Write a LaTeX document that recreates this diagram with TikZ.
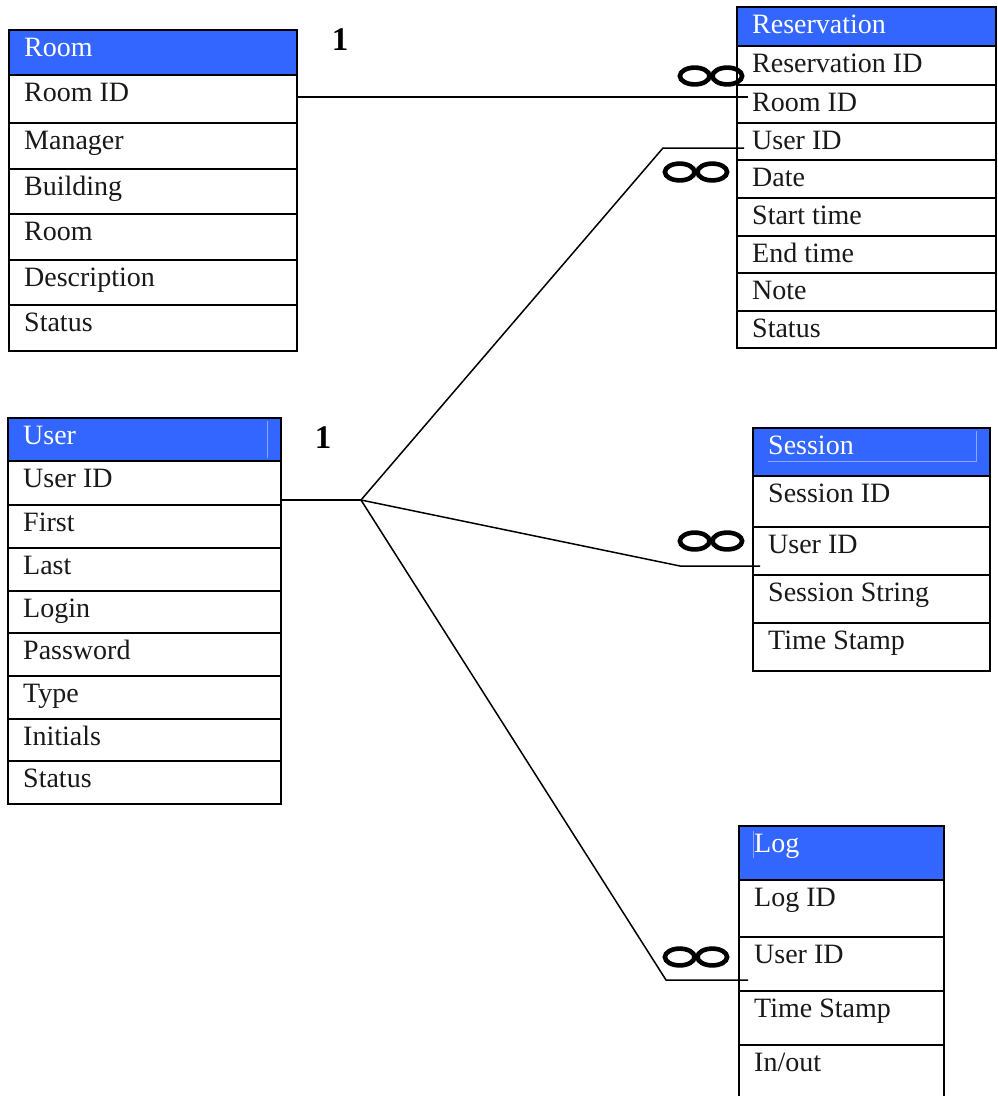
\documentclass[tikz,border=0pt]{standalone}
\usepackage{fontspec}
\setmainfont{Liberation Serif}
\definecolor{hdrblue}{RGB}{51,102,255}
\definecolor{hdrfaint}{RGB}{140,165,255}
\tikzset{
  x=1pt, y=1pt,
  rowbox/.style={draw=black, line width=2.5, fill=white, inner sep=0, outer sep=0},
  hdrbox/.style={draw=black, line width=2.5, fill=hdrblue, inner sep=0, outer sep=0},
  rowtxt/.style={inner sep=0, font=\fontsize{28}{30}\selectfont, text=black!90},
  hdrtxt/.style={inner sep=0, font=\fontsize{28}{30}\selectfont, text=white},
  onelbl/.style={inner sep=0, font=\fontsize{33}{36}\selectfont\bfseries},
  conn/.style={draw=black, line width=1.5},
  infsign/.pic={
    \draw[line width=4.6] (-16.3,0) ellipse (14.8 and 8.4);
    \draw[line width=4.6] (16.3,0) ellipse (14.8 and 8.4);
  }
}
% name, x, ytop, width, height, text
\newcommand\erow[6]{%
  \node[rowbox, minimum width=#4, minimum height=#5, anchor=north west] (#1) at (#2,#3) {};
  \node[rowtxt, anchor=base west] (#1-t) at ([xshift=15,yshift=-26]#1.north west) {#6};}
\newcommand\ehdr[6]{%
  \node[hdrbox, minimum width=#4, minimum height=#5, anchor=north west] (#1) at (#2,#3) {};
  \node[hdrtxt, anchor=base west] (#1-t) at ([xshift=15,yshift=-26]#1.north west) {#6};}
\begin{document}
\begin{tikzpicture}
\clip (0,0) rectangle (997,-1096);
\fill[white] (0,0) rectangle (997,-1096);

% ---------- Room ----------
\ehdr{room0}{9}{-30}{288}{45}{Room}
\erow{room1}{9}{-75}{288}{48}{Room ID}
\erow{room2}{9}{-123}{288}{46}{Manager}
\erow{room3}{9}{-169}{288}{45}{Building}
\erow{room4}{9}{-214}{288}{46}{Room}
\erow{room5}{9}{-260}{288}{45}{Description}
\erow{room6}{9}{-305}{288}{46}{Status}

% ---------- Reservation ----------
\ehdr{res0}{737}{-7}{259}{39}{Reservation}
\erow{res1}{737}{-46}{259}{39}{Reservation ID}
\erow{res2}{737}{-85}{259}{38}{Room ID}
\erow{res3}{737}{-123}{259}{37}{User ID}
\erow{res4}{737}{-160}{259}{38}{Date}
\erow{res5}{737}{-198}{259}{38}{Start time}
\erow{res6}{737}{-236}{259}{37}{End time}
\erow{res7}{737}{-273}{259}{38}{Note}
\erow{res8}{737}{-311}{259}{37}{Status}

% ---------- User ----------
\ehdr{user0}{8}{-418}{273}{43}{User}
\draw[hdrfaint, line width=0.8] (267,-421) -- (267,-458);
\erow{user1}{8}{-461}{273}{44}{User ID}
\erow{user2}{8}{-505}{273}{43}{First}
\erow{user3}{8}{-548}{273}{43}{Last}
\erow{user4}{8}{-591}{273}{42}{Login}
\erow{user5}{8}{-633}{273}{43}{Password}
\erow{user6}{8}{-676}{273}{43}{Type}
\erow{user7}{8}{-719}{273}{42}{Initials}
\erow{user8}{8}{-761}{273}{43}{Status}

% ---------- Session ----------
\ehdr{ses0}{753}{-428}{237}{48}{Session}
\draw[hdrfaint, line width=0.8] (768,-461) -- (976,-461) -- (976,-431);
\erow{ses1}{753}{-476}{237}{51}{Session ID}
\erow{ses2}{753}{-527}{237}{48}{User ID}
\erow{ses3}{753}{-575}{237}{48}{Session String}
\erow{ses4}{753}{-623}{237}{48}{Time Stamp}

% ---------- Log ----------
\ehdr{log0}{739}{-826}{205}{54}{Log}
\draw[hdrfaint, line width=0.8] (753,-831) -- (753,-858);
\erow{log1}{739}{-880}{205}{57}{Log ID}
\erow{log2}{739}{-937}{205}{54}{User ID}
\erow{log3}{739}{-991}{205}{54}{Time Stamp}
\erow{log4}{739}{-1045}{205}{70}{In/out}

% ---------- cardinality labels ----------
\node[onelbl] (one1) at (340,-40) {1};
\node[onelbl] (one2) at (323,-438) {1};

% ---------- connectors ----------
\coordinate (rr) at (748,-97);
\draw[conn] (room1.east |- rr) -- (rr);

\coordinate (J) at (361,-500);
\draw[conn] ([yshift=5]user1.south east) -- (J);

\coordinate (ra) at (663,-148);
\coordinate (rb) at (744,-148);
\draw[conn] (J) -- (ra) -- (rb);

\coordinate (sa) at (680,-566);
\coordinate (sb) at (760,-566);
\draw[conn] (J) -- (sa) -- (sb);

\coordinate (la) at (666,-980);
\coordinate (lb) at (748,-980);
\draw[conn] (J) -- (la) -- (lb);

% ---------- many markers ----------
\pic at (711,-76) {infsign};
\pic at (696,-172) {infsign};
\pic at (711,-541) {infsign};
\pic at (696,-957) {infsign};
\end{tikzpicture}
\end{document}
